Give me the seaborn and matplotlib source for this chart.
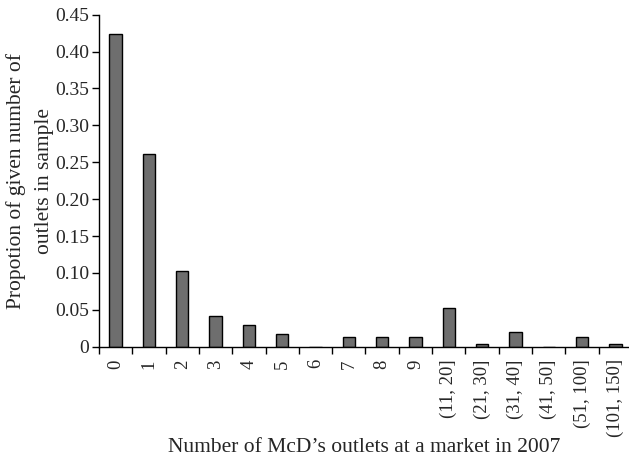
import numpy as np
import pandas as pd
import matplotlib.pyplot as plt
import seaborn as sns
from matplotlib.ticker import FixedLocator, FuncFormatter

# --- data ---
categories = ['0', '1', '2', '3', '4', '5', '6', '7', '8', '9',
              '(11, 20]', '(21, 30]', '(31, 40]', '(41, 50]', '(51, 100]', '(101, 150]']
proportions = [0.424, 0.261, 0.103, 0.042, 0.030, 0.017, 0.0, 0.013, 0.013, 0.013,
               0.052, 0.004, 0.020, 0.0, 0.013, 0.004]

df = pd.DataFrame({'outlets': categories, 'share': proportions})

sns.set_style('white')
plt.rcParams['font.family'] = ['Liberation Serif', 'DejaVu Serif']

fig = plt.figure(figsize=(6.29, 4.62), dpi=100)
ax = fig.add_axes([99 / 629, (462 - 346.7) / 462, 533 / 629, 332 / 462])

sns.barplot(data=df, x='outlets', y='share', order=categories, color='#6e6e6e',
            saturation=1, edgecolor='black', linewidth=1, width=0.37, ax=ax)

ax.set_xlim(-0.5, len(categories) - 0.5)
ax.set_ylim(0, 0.45)
ax.set_yticks(np.arange(0, 0.451, 0.05))
ax.yaxis.set_major_formatter(FuncFormatter(lambda v, p: '0' if abs(v) < 1e-9 else f'{v:.2f}'))

# tick marks at category boundaries, labels at centres
ax.xaxis.set_minor_locator(FixedLocator(np.arange(-0.5, len(categories), 1.0)))
ax.tick_params(axis='x', which='major', bottom=True, length=0, labelsize=13.5,
               rotation=90, pad=9)
ax.tick_params(axis='x', which='minor', bottom=True, length=5, width=1,
               color='black', direction='out')
ax.tick_params(axis='y', which='major', left=True, length=5, width=1, color='black',
               direction='out', labelsize=14, pad=2)

for side in ['top', 'right']:
    ax.spines[side].set_visible(False)
for side in ['left', 'bottom']:
    ax.spines[side].set_color('black')
    ax.spines[side].set_linewidth(1)

ax.set_xlabel('Number of McD\u2019s outlets at a market in 2007', fontsize=15.5)
ax.xaxis.set_label_coords(0.497, -0.275)
ax.set_ylabel('Propotion of given number of\noutlets in sample', fontsize=15.5,
              linespacing=1.65)
ax.yaxis.set_label_coords(-0.084, 0.5)

fig.savefig('out.png', dpi=100)
